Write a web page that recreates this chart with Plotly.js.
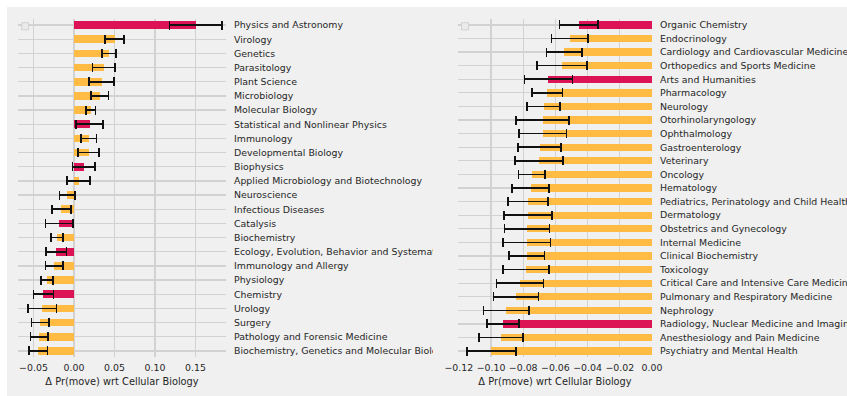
<!DOCTYPE html>
<html>
<head>
<meta charset="utf-8">
<script src="https://cdn.plot.ly/plotly-3.0.1.min.js"></script>
<style>
  html, body { margin: 0; padding: 0; background: #ffffff; }
  #wrap { position: absolute; left: 7px; top: 7px; width: 840px; height: 389px; background: #f0f0f0; }
  .panel { position: absolute; top: 0; height: 389px; overflow: hidden; }
  #left { left: 0; width: 426px; }
  #right { left: 426px; width: 414px; }
</style>
</head>
<body>
<div id="wrap">
  <div id="left" class="panel"></div>
  <div id="right" class="panel"></div>
</div>
<script>
// Change in probability of moving, relative to Cellular Biology, with error half-widths.
const leftFields = [
  "Physics and Astronomy", "Virology", "Genetics", "Parasitology", "Plant Science",
  "Microbiology", "Molecular Biology", "Statistical and Nonlinear Physics", "Immunology",
  "Developmental Biology", "Biophysics", "Applied Microbiology and Biotechnology",
  "Neuroscience", "Infectious Diseases", "Catalysis", "Biochemistry",
  "Ecology, Evolution, Behavior and Systematics", "Immunology and Allergy", "Physiology",
  "Chemistry", "Urology", "Surgery", "Pathology and Forensic Medicine",
  "Biochemistry, Genetics and Molecular Biology"
];
const leftDelta = [
  0.1505, 0.0503, 0.0430, 0.0368, 0.0340, 0.0318, 0.0207, 0.0192, 0.0183,
  0.0181, 0.0121, 0.0056, -0.0082, -0.0157, -0.0182, -0.0211, -0.0218, -0.0243,
  -0.0332, -0.0378, -0.0390, -0.0417, -0.0429, -0.0439
];
const leftErr = [
  0.0325, 0.0117, 0.0086, 0.0140, 0.0152, 0.0110, 0.0060, 0.0170, 0.0095,
  0.0128, 0.0140, 0.0144, 0.0095, 0.0117, 0.0170, 0.0076, 0.0128, 0.0107,
  0.0076, 0.0123, 0.0175, 0.0109, 0.0109, 0.0113
];
const leftHighlight = [
  1, 0, 0, 0, 0, 0, 0, 1, 0, 0, 1, 0, 0, 0, 1, 0, 1, 0, 0, 1, 0, 0, 0, 0
];

const rightFields = [
  "Organic Chemistry", "Endocrinology", "Cardiology and Cardiovascular Medicine",
  "Orthopedics and Sports Medicine", "Arts and Humanities", "Pharmacology", "Neurology",
  "Otorhinolaryngology", "Ophthalmology", "Gastroenterology", "Veterinary", "Oncology",
  "Hematology", "Pediatrics, Perinatology and Child Health", "Dermatology",
  "Obstetrics and Gynecology", "Internal Medicine", "Clinical Biochemistry", "Toxicology",
  "Critical Care and Intensive Care Medicine", "Pulmonary and Respiratory Medicine",
  "Nephrology", "Radiology, Nuclear Medicine and Imaging", "Anesthesiology and Pain Medicine",
  "Psychiatry and Mental Health"
];
const rightDelta = [
  -0.0454, -0.0510, -0.0544, -0.0558, -0.0643, -0.0652, -0.0673, -0.0679, -0.0679,
  -0.0698, -0.0702, -0.0747, -0.0754, -0.0770, -0.0770, -0.0776, -0.0777, -0.0778,
  -0.0782, -0.0820, -0.0844, -0.0905, -0.0925, -0.0938, -0.0998
];
const rightErr = [
  0.0120, 0.0114, 0.0111, 0.0155, 0.0148, 0.0095, 0.0102, 0.0165, 0.0148,
  0.0133, 0.0149, 0.0083, 0.0114, 0.0123, 0.0150, 0.0140, 0.0147, 0.0110,
  0.0143, 0.0146, 0.0140, 0.0141, 0.0100, 0.0138, 0.0152
];
const rightHighlight = [
  1, 0, 0, 0, 1, 0, 0, 0, 0, 0, 0, 0, 0, 0, 0, 0, 0, 0, 0, 0, 0, 0, 1, 0, 0
];

const leftTicks = [-0.05, 0.0, 0.05, 0.10, 0.15];
const rightTicks = [-0.12, -0.10, -0.08, -0.06, -0.04, -0.02, 0.0];
const axisLabel = "\u0394 Pr(move) wrt Cellular Biology";

const ORANGE = "#ffbb43";
const CRIMSON = "#dc1455";
const BG = "#f0f0f0";
const GRID = "#d2d2d2";
const TEXT = "#262626";
const FONT = "DejaVu Sans, sans-serif";

function drawPanel(divId, fields, delta, err, highlight, ticks, xRange, margin) {
  const idx = fields.map((_, i) => i);
  const trace = {
    type: "bar",
    orientation: "h",
    x: delta,
    y: idx,
    width: 0.54,
    marker: { color: highlight.map(h => (h ? CRIMSON : ORANGE)), line: { width: 0 } },
    error_x: { type: "data", array: err, visible: true, color: "#111111", thickness: 1.6, width: 4.5 },
    hoverinfo: "skip"
  };
  const n = fields.length;
  const layout = {
    width: margin.w,
    height: 389,
    margin: { l: margin.l, r: margin.r, t: 12, b: 39, pad: 0 },
    paper_bgcolor: BG,
    plot_bgcolor: BG,
    showlegend: false,
    font: { family: FONT, size: 9.4, color: TEXT },
    bargap: 0,
    xaxis: {
      range: xRange,
      tickvals: ticks,
      tickformat: ".2f",
      ticks: "",
      showgrid: true,
      gridcolor: GRID,
      gridwidth: 1.3,
      zeroline: false,
      showline: false,
      ticklabelstandoff: 4,
      tickfont: { family: FONT, size: 9.4, color: TEXT },
      title: { text: axisLabel, font: { family: FONT, size: 9.8, color: TEXT }, standoff: 5 }
    },
    yaxis: {
      range: [n - 1 + 0.43, -0.43],
      tickvals: idx,
      ticktext: fields,
      side: "right",
      ticks: "",
      ticklabelstandoff: 7,
      showgrid: true,
      gridcolor: GRID,
      gridwidth: 1.3,
      zeroline: false,
      showline: false,
      automargin: false,
      tickfont: { family: FONT, size: 9.4, color: TEXT }
    },
    shapes: [{
      type: "rect",
      xref: "x domain", yref: "paper",
      x0: margin.boxX0, x1: margin.boxX1,
      y0: margin.boxY0, y1: margin.boxY1,
      line: { color: "#d0d0d0", width: 1 },
      fillcolor: "#ebebeb",
      layer: "above"
    }]
  };
  Plotly.newPlot(divId, [trace], layout, { staticPlot: true, displayModeBar: false });
}

// Plot area heights are the same for both panels (338 px); the open square sits on the first row.
drawPanel("left", leftFields, leftDelta, leftErr, leftHighlight, leftTicks,
  [-0.0691, 0.1877],
  { w: 426, l: 11, r: 207, boxX0: 0.018, boxX1: 0.051, boxY0: 0.968, boxY1: 0.989 });

drawPanel("right", rightFields, rightDelta, rightErr, rightHighlight, rightTicks,
  [-0.1205, 0.0],
  { w: 414, l: 25, r: 195, boxX0: 0.018, boxX1: 0.055, boxY0: 0.968, boxY1: 0.989 });
</script>
</body>
</html>
